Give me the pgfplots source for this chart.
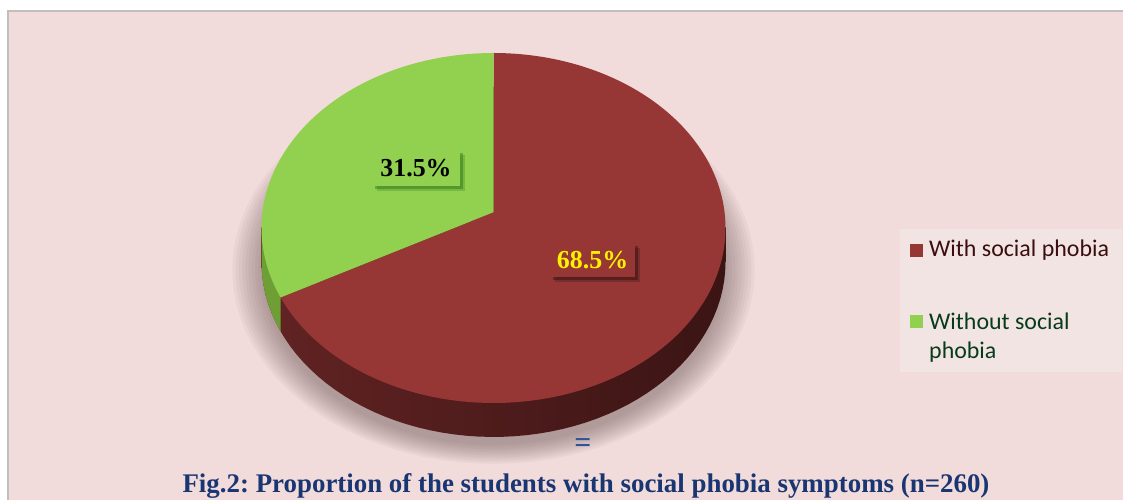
\documentclass[border=0pt]{standalone}
\usepackage{fontspec}
\setmainfont{Liberation Serif}
\newfontfamily\legfont{Carlito}
\usepackage{pgfplots}
\pgfplotsset{compat=1.18}
\usetikzlibrary{shadows}
\definecolor{bgpink}{HTML}{F1DCDB}
\definecolor{borderGray}{HTML}{BFBFBF}
\definecolor{pieRed}{HTML}{963735}
\definecolor{pieGreen}{HTML}{92D050}
\definecolor{sideGreen}{HTML}{6E9E34}
\definecolor{sideL}{HTML}{622323}
\definecolor{sideM}{HTML}{461818}
\definecolor{sideR}{HTML}{3B1414}
\definecolor{shadowCol}{HTML}{5A4545}
\definecolor{legBg}{HTML}{F2E4E3}
\definecolor{legRed}{HTML}{3A0E0E}
\definecolor{legGreen}{HTML}{083B1A}
\definecolor{titleBlue}{HTML}{1A3672}
\definecolor{eqBlue}{HTML}{2F5597}
% data (percent)
\def\valWith{68.5}
\def\valWithout{31.5}
\pgfmathsetmacro\angRedStart{90-3.6*\valWith}
\pgfmathsetmacro\angGreenEnd{90+3.6*\valWithout}
\def\depth{0.194}
\frenchspacing
\begin{document}
\begin{tikzpicture}[x=1bp,y=1bp]
\useasboundingbox (0,0) rectangle (1123,500);
\fill[white] (0,0) rectangle (1123,500);
\fill[bgpink] (8,0) rectangle (1123,489);
\fill[borderGray] (7,0) rectangle (9.3,490.3);
\fill[borderGray] (7,488) rectangle (1123,490.3);
\begin{axis}[x=232bp, y=175bp, anchor=origin, at={(493.5bp,272bp)},
  hide axis, clip=false, xmin=-1, xmax=1, ymin=-1, ymax=1]
% soft shadow
\pgfplotsinvokeforeach{0,...,9}{
  \addplot[draw=none, fill=shadowCol, fill opacity=0.05, domain=0:360, samples=90, variable=\t]
    ({(1.0+0.014*#1)*cos(\t)},{-0.24+(1.0+0.012*#1)*sin(\t)}) -- cycle;
}
% side wall (extrusion)
\addplot[draw=none, left color=sideL, middle color=sideM, right color=sideR, domain=0:360, samples=120, variable=\t]
  ({cos(\t)},{sin(\t)-\depth}) -- cycle;
\addplot[draw=none, left color=sideL, middle color=sideM, right color=sideR]
  coordinates {(-1,0) (1,0) (1,-\depth) (-1,-\depth)} -- cycle;
% green side sliver
\addplot[draw=none, fill=sideGreen, domain=180:\angGreenEnd, samples=30, variable=\t]
  ({cos(\t)},{sin(\t)-\depth}) -- (axis cs:{cos(\angGreenEnd)},{sin(\angGreenEnd)}) -- (axis cs:-1,0) -- cycle;
% top faces
\addplot[draw=none, fill=pieRed, domain=\angRedStart:90, samples=150, variable=\t]
  ({cos(\t)},{sin(\t)}) -- (axis cs:0,0.09) -- cycle;
\addplot[draw=none, fill=pieGreen, domain=90:\angGreenEnd, samples=80, variable=\t]
  ({cos(\t)},{sin(\t)}) -- (axis cs:0,0.09) -- cycle;
% value labels
\node[fill=pieGreen, minimum width=88bp, minimum height=36bp, inner sep=0pt,
  drop shadow={shadow xshift=5bp, shadow yshift=-5bp, fill=black!70!green, opacity=0.18},
  drop shadow={shadow xshift=3bp, shadow yshift=-3bp, fill=black!70!green, opacity=0.3}]
  at (axis cs:-0.334,0.343) {\fontsize{26}{26}\selectfont\bfseries 31.5\%};
\node[fill=pieRed, minimum width=85bp, minimum height=34bp, inner sep=0pt, text=yellow,
  drop shadow={shadow xshift=5bp, shadow yshift=-5bp, fill=black, opacity=0.18},
  drop shadow={shadow xshift=3bp, shadow yshift=-3bp, fill=black, opacity=0.3}]
  at (axis cs:0.427,-0.183) {\fontsize{26}{26}\selectfont\bfseries 68.5\%};
\end{axis}
% legend
\fill[legBg] (900,128) rectangle (1122,271);
\fill[pieRed] (910,243) rectangle (923,256);
\node[anchor=base west, inner sep=0pt, text=legRed, font=\legfont\fontsize{24}{24}\selectfont] at (929,243) {With social phobia};
\fill[pieGreen] (910,172) rectangle (923,185);
\node[anchor=base west, inner sep=0pt, text=legGreen, font=\legfont\fontsize{24}{24}\selectfont] at (929,170) {Without social};
\node[anchor=base west, inner sep=0pt, text=legGreen, font=\legfont\fontsize{24}{24}\selectfont] at (929,141) {phobia};
% equals sign and title
\node[text=eqBlue, font=\fontsize{30}{30}\selectfont\bfseries] at (583,54) {=};
\node[anchor=base, inner sep=0pt, text=titleBlue, font=\fontsize{27}{27}\selectfont\bfseries] at (586,7) {Fig.2: Proportion of the students with social phobia symptoms (n=260)};
\end{tikzpicture}
\end{document}
